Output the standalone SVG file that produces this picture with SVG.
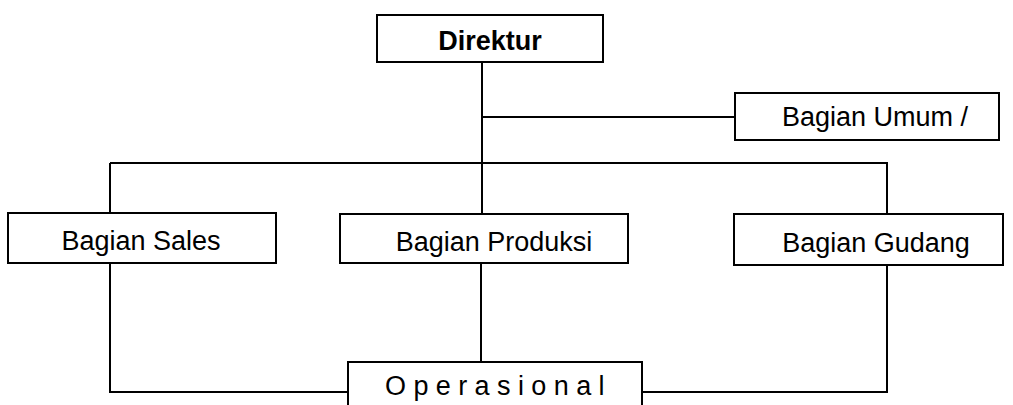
<svg xmlns="http://www.w3.org/2000/svg" width="1013" height="405" viewBox="0 0 1013 405">
<style>
.box{fill:#fff;stroke:#000;stroke-width:2}
.ln{fill:none;stroke:#000;stroke-width:2}
.t{font-family:"Liberation Sans",Arial,sans-serif;font-size:27px;fill:#000;text-anchor:middle}
.b{font-weight:bold}
</style>
<rect width="1013" height="405" fill="#fff"/>
<g id="connectors">
<path class="ln" d="M482 62V214"/>
<path class="ln" d="M482 117H735"/>
<path class="ln" d="M110 163H887V214"/>
<path class="ln" d="M110 163V213"/>
<path class="ln" d="M110 263V392H348"/>
<path class="ln" d="M481 263V362"/>
<path class="ln" d="M887 265V392H642"/>
</g>
<g id="direktur">
<rect class="box" x="377" y="15" width="226" height="47"/>
<text class="t b" x="490" y="50">Direktur</text>
</g>
<g id="umum">
<rect class="box" x="735" y="93" width="264" height="47"/>
<text class="t" x="875" y="126">Bagian Umum /</text>
</g>
<g id="sales">
<rect class="box" x="8" y="213" width="268" height="50"/>
<text class="t" x="141" y="250">Bagian Sales</text>
</g>
<g id="produksi">
<rect class="box" x="340" y="214" width="288" height="49"/>
<text class="t" x="494" y="251">Bagian Produksi</text>
</g>
<g id="gudang">
<rect class="box" x="734" y="214" width="269" height="51"/>
<text class="t" x="876" y="252">Bagian Gudang</text>
</g>
<g id="operasional">
<rect class="box" x="348" y="362" width="294" height="50"/>
<text class="t" x="385" y="395" letter-spacing="7.4" style="text-anchor:start">Operasional</text>
</g>
</svg>
